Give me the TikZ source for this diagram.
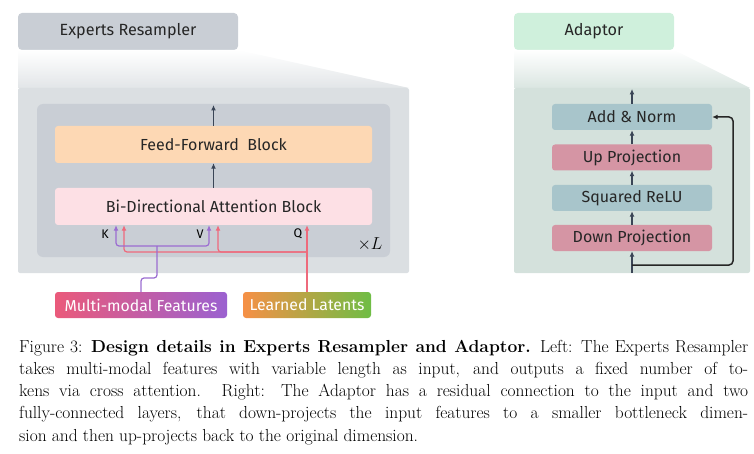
\documentclass[tikz,border=0pt]{standalone}
\usepackage{fontspec}
\newfontfamily\dinfont{Fira Sans}
\usetikzlibrary{arrows.meta,positioning}

\definecolor{tabgray}{HTML}{C9CED5}
\definecolor{outgray}{HTML}{DBDFE2}
\definecolor{ingray}{HTML}{C9CED5}
\definecolor{ffpeach}{HTML}{FDD8B4}
\definecolor{bdapink}{HTML}{FDE0E5}
\definecolor{arrdark}{HTML}{3A4556}
\definecolor{kvpurple}{HTML}{9B6DD1}
\definecolor{qred}{HTML}{EE6A7C}
\definecolor{tabmint}{HTML}{CFF0DC}
\definecolor{outmint}{HTML}{D4E1DC}
\definecolor{adblue}{HTML}{A8C5CB}
\definecolor{adrose}{HTML}{D595A4}
\definecolor{mmleft}{HTML}{EA5A7B}
\definecolor{mmright}{HTML}{9B61D0}
\definecolor{llleft}{HTML}{F69046}
\definecolor{llright}{HTML}{6FBD45}

\tikzset{
  blk/.style={rounded corners=3pt, inner sep=0pt, font=\dinfont\fontsize{16}{17}\selectfont, text=black!85},
  tab/.style={blk, rounded corners=4pt, minimum height=37pt, font=\dinfont\fontsize{16.2}{18}\selectfont},
  inbox/.style={rounded corners=3pt, inner sep=0pt, minimum height=26pt, font=\dinfont\fontsize{15.8}{17}\selectfont, text=white},
  arr/.style={draw=arrdark, line width=1.3pt, -{Latex[length=5.5pt,width=5pt]}},
  purp/.style={draw=kvpurple, line width=1.2pt, rounded corners=3pt},
  redl/.style={draw=qred, line width=1.2pt, rounded corners=3pt},
  tip/.style={-{Latex[length=5.5pt,width=5pt]}},
  lab/.style={font=\dinfont\fontsize{12.5}{13}\selectfont, inner sep=0pt},
  resid/.style={draw=black!85, line width=1.5pt, rounded corners=4pt, -{Latex[length=5.5pt,width=5pt]}}
}

\begin{document}
\begin{tikzpicture}[x=1pt,y=-1pt]
\useasboundingbox (0,0) rectangle (754,454);

% experts resampler
\node[tab, fill=tabgray, minimum width=220pt] (ertab) at (128,31.5) {Experts Resampler};
\shade[top color=white, bottom color=outgray!80] (18,50) -- (238,50) -- (409,88) -- (18,88) -- cycle;
\fill[outgray, rounded corners=2pt] (18,88) rectangle (409,273);
\fill[ingray, rounded corners=6pt] (37,104) rectangle (390,257);

\node[blk, fill=ffpeach, minimum width=317pt, minimum height=37pt] (ff) at (213.5,144.5) {Feed-Forward\ \ Block};
\node[blk, fill=bdapink, minimum width=317pt, minimum height=37pt] (bda) at (213.5,206.5) {Bi-Directional Attention Block};
\coordinate (ffout) at (213.5,105);
\draw[arr] (bda) -- (ff);
\draw[arr] (ff) -- (ffout);

\node[lab] (klab) at (105,234) {K};
\node[lab] (vlab) at (200,234) {V};
\node[lab] (qlab) at (298,234) {Q};
\node[font=\fontsize{18}{19}\selectfont, inner sep=0pt] (times) at (370,244) {$\times L$};

\node[inbox, minimum width=172pt, left color=mmleft, right color=mmright] (mmf) at (141,305) {Multi-modal Features};
\node[inbox, minimum width=128pt, left color=llleft, right color=llright] (ll) at (307,305) {Learned Latents};

% query/key/value
\coordinate (qsplit) at (307,252);
\draw[redl, tip] (ll) -- (bda.south -| ll);
\draw[redl, tip] (qsplit) -| (bda.south -| 124,0);
\draw[redl, tip] (qsplit) -| (bda.south -| 218,0);
\coordinate (kvsplit) at (157,246);
\draw[purp] (mmf) |- (157,278) -- (kvsplit);
\draw[purp, tip] (kvsplit) -| (bda.south -| 116,0);
\draw[purp, tip] (kvsplit) -| (bda.south -| 209,0);

% adaptor
\node[tab, fill=tabmint, minimum width=160pt] (adtab) at (594,31.5) {Adaptor};
\shade[top color=white, bottom color=outmint!85] (514,50) -- (674,50) -- (750,88) -- (514,88) -- cycle;
\fill[outmint, rounded corners=2pt] (514,88) rectangle (750,273);

\node[blk, fill=adblue, minimum width=160pt, minimum height=26pt] (addn) at (632,117) {Add \& Norm};
\node[blk, fill=adrose, minimum width=160pt, minimum height=26pt] (upp) at (632,157.5) {Up Projection};
\node[blk, fill=adblue, minimum width=160pt, minimum height=26pt] (sqr) at (632,198) {Squared ReLU};
\node[blk, fill=adrose, minimum width=160pt, minimum height=26pt] (down) at (632,238) {Down Projection};
\coordinate (adin) at (632,273);
\coordinate (adout) at (632,89);
\coordinate (split) at (632,265);
\coordinate (rbend) at (733,117);
\draw[arr] (adin) -- (down);
\draw[arr] (down) -- (sqr);
\draw[arr] (sqr) -- (upp);
\draw[arr] (upp) -- (addn);
\draw[arr] (addn) -- (adout);
\draw[resid] (split) -| (rbend) -- (addn.east);

% caption
\node[anchor=base west, inner sep=0pt, text width=729pt, align=justify,
      font=\fontsize{17.4}{22.25}\selectfont] (cap) at (19,352)
 {\hyphenpenalty=10000 Figure 3: \textbf{Design details in Experts Resampler and Adaptor.} Left: The Experts Resampler\linebreak
  takes multi-modal features with variable length as input, and outputs a fixed number of to-\linebreak
  kens via cross attention. Right: The Adaptor has a residual connection to the input and two\linebreak
  fully-connected layers, that down-projects the input features to a smaller bottleneck dimen-\linebreak
  sion and then up-projects back to the original dimension.};
\end{tikzpicture}
\end{document}
